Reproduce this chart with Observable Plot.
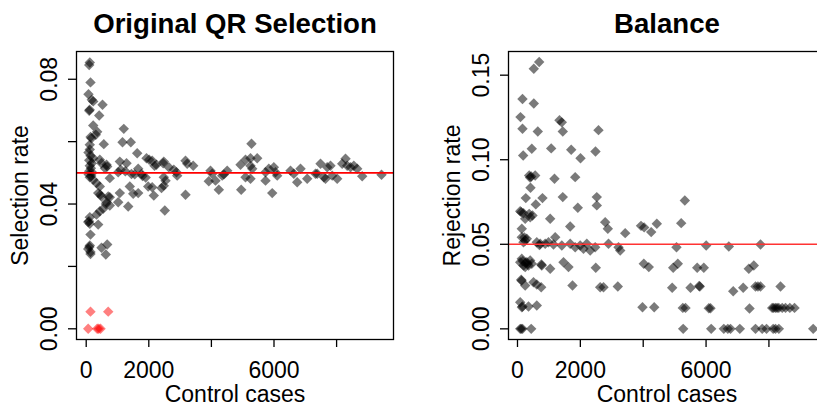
<!DOCTYPE html>
<html><head><meta charset="utf-8">
<script src="https://cdn.jsdelivr.net/npm/d3@7"></script>
<script src="https://cdn.jsdelivr.net/npm/@observablehq/plot@0.6"></script>
<style>
html,body{margin:0;padding:0;background:#fff;overflow:hidden;width:817px;height:406px}
#wrap{display:flex;width:900px;height:406px}
#wrap svg{flex:none}
</style></head><body><div id="wrap"></div>
<script>
const FONT = "Liberation Sans, Arial, Helvetica, sans-serif";

// Panel titles and labels
const titles = ["Original QR Selection", "Balance"];
const yLabels = ["Selection rate", "Rejection rate"];
const xLabel = "Control cases";

// Tick values and labels
const xTicks = [0, 2000, 4000, 6000, 8000];
const xTickLabels = ["0", "2000", "", "6000", ""];
const yTicksLeft = [0, 0.02, 0.04, 0.06, 0.08];
const yTickLabelsLeft = ["0.00", "", "0.04", "", "0.08"];
const yTicksRight = [0, 0.05, 0.10, 0.15];
const yTickLabelsRight = ["0.00", "0.05", "0.10", "0.15"];
const nominalRate = 0.05;

// Left panel: [control cases, selection rate]
const selection = [
[115,.0854],[96,.0846],[137,.0790],[73,.0752],[179,.0734],[224,.0729],[521,.0718],
[96,.0699],[110,.0702],[415,.0684],[224,.0652],[1201,.0641],[351,.0632],[307,.0622],
[169,.0611],[140,.0615],[115,.0590],[562,.0592],[1160,.0598],[1425,.0598],[1629,.0563],
[115,.0575],[73,.0565],[137,.0555],[224,.0547],[96,.0540],[179,.0531],[115,.0523],
[150,.0515],[96,.0505],[200,.0500],[80,.0495],[160,.0490],[435,.0542],[489,.0531],
[649,.0526],[671,.0520],[600,.0515],[1074,.0536],[1288,.0531],[1927,.0547],[2013,.0542],
[2246,.0526],[2460,.0531],[1661,.0513],[1022,.0502],[1447,.0496],[1767,.0496],[754,.0483],
[115,.0486],[224,.0478],[329,.0467],[435,.0456],[1393,.0456],[1981,.0456],[1661,.0435],
[1074,.0435],[2160,.0427],[383,.0435],[489,.0424],[703,.0424],[450,.0430],[2406,.0451],
[754,.0422],[1502,.0433],[649,.0406],[630,.0400],[754,.0395],[1022,.0406],[1342,.0392],
[2511,.0379],[543,.0385],[435,.0377],[329,.0366],[115,.0358],[64,.0342],[115,.0337],
[90,.0345],[383,.0334],[137,.0302],[115,.0267],[64,.0256],[137,.0246],[100,.0262],
[489,.0260],[671,.0270],[626,.0238],[137,.0240],
[2109,.0539],[2182,.0523],[2479,.0536],[2639,.0518],[2799,.0510],[2885,.0502],
[3173,.0539],[3227,.0529],[3419,.0523],[2907,.0491],[2479,.0486],[2534,.0475],
[2479,.0459],[2109,.0454],[3173,.0430],[3971,.0507],[4026,.0497],[4505,.0507],
[4400,.0495],[3917,.0473],[4131,.0475],[4237,.0446],[4345,.0491],[4930,.0526],
[5090,.0542],[5249,.0547],[5281,.0593],[5463,.0547],[5249,.0523],[5304,.0513],
[5090,.0486],[5249,.0481],[4952,.0446],[5729,.0502],[5835,.0513],[5995,.0518],
[6048,.0502],[6102,.0491],[5729,.0475],[5943,.0435],[6527,.0507],[6633,.0497],
[6847,.0513],[6741,.0470],[7061,.0481],[7326,.0497],[7381,.0497],[7486,.0529],
[7592,.0486],[7700,.0518],[7805,.0523],[7646,.0481],[7860,.0491],[8019,.0481],
[8179,.0529],[8285,.0545],[8339,.0523],[8445,.0518],[8550,.0523],[8658,.0513],
[8818,.0489],[9435,.0494],[1100,.0510],[1250,.0505],[1550,.0495],[1800,.0490],[1900,.0485]
];
// Left panel, red points: [control cases, selection rate]
const selectionZero = [[137,.0055],[703,.0055],[64,0],[351,0],[400,0],[457,0]];

// Right panel: [control cases, rejection rate]
const balance = [
[690,.1578],[519,.1538],[159,.1359],[519,.1333],[95,.1252],[1336,.1233],[1410,.1221],
[159,.1183],[646,.1167],[1441,.1167],[2577,.1175],[455,.1065],[181,.1025],[1072,.1067],
[1709,.1059],[2005,.1009],[2482,.1049],[372,.0907],[436,.0901],[563,.0907],[400,.0895],
[414,.0834],[1177,.0888],[1836,.0897],[264,.0773],[795,.0773],[1441,.0779],[2523,.0779],
[2523,.0730],[582,.0736],[1919,.0716],[86,.0696],[191,.0684],[372,.0680],[477,.0670],
[404,.0660],[245,.0651],[120,.0690],[1040,.0651],[2790,.0631],[2874,.0592],[1677,.0605],
[3427,.0566],[3930,.0609],[4030,.0600],[4254,.0572],[4433,.0621],[137,.0592],
[137,.0542],[245,.0522],[191,.0512],[296,.0533],[220,.0540],[614,.0512],[722,.0503],
[881,.0503],[986,.0512],[700,.0495],[1200,.0542],[1146,.0499],[1410,.0493],
[1677,.0503],[1836,.0483],[1995,.0493],[2100,.0473],[2205,.0503],[2313,.0463],[2472,.0483],
[2896,.0503],[3214,.0483],[3268,.0463],
[137,.0414],[86,.0394],[191,.0375],[296,.0394],[404,.0404],[455,.0385],[245,.0365],
[350,.0375],[170,.0400],[320,.0385],[250,.0390],[773,.0375],[760,.0380],[1040,.0355],
[1464,.0394],[1623,.0365],[2491,.0361],[118,.0290],[245,.0256],[130,.0285],
[509,.0276],[614,.0262],[754,.0246],[1750,.0256],[2631,.0246],[2737,.0246],[3192,.0250],
[86,.0157],[159,.0132],[350,.0132],[614,.0138],[140,.0128],[3977,.0128],[4350,.0128],
[86,0],[159,0],[436,0],[120,0],
[5324,.0759],[5209,.0625],[5059,.0483],[6004,.0493],[6724,.0487],[7732,.0499],
[4019,.0385],[4178,.0365],[4954,.0361],[5101,.0385],[5718,.0361],[5928,.0361],
[7360,.0355],[7519,.0375],[4922,.0243],[5505,.0243],[5801,.0250],[5780,.0253],
[6864,.0222],[7182,.0243],[7573,.0250],[7732,.0250],[7650,.0250],[8369,.0250],
[5260,.0124],[5346,.0124],[6087,.0122],[6141,.0122],[7382,.0120],
[8104,.0124],[8150,.0124],[8210,.0124],[8260,.0124],[8315,.0124],[8423,.0124],
[8528,.0124],[8665,.0124],[8814,.0124],
[5272,0],[6163,0],[6565,0],[6692,0],[6778,0],[7074,0],[7573,0],[7786,0],[7923,0],
[8136,0],[8210,0],[8315,0],[9409,0]
];

function panel({title, ylab, pts, redPts, xDomain, yDomain, yTicks, yTickLabels, width, marginLeft, lineColor}) {
  const marks = [
    Plot.dot(pts, {x: d => d[0], y: d => d[1], symbol: "diamond2", r: 4.7, fill: "black", fillOpacity: 0.52, stroke: "none"})
  ];
  if (redPts) marks.push(Plot.dot(redPts, {x: d => d[0], y: d => d[1], symbol: "diamond2", r: 4.7, fill: "red", fillOpacity: 0.5, stroke: "none"}));
  marks.push(
    Plot.ruleY([nominalRate], {stroke: lineColor, strokeWidth: 1.6}),
    Plot.frame({stroke: "black", strokeWidth: 1.3}),
    Plot.axisX({ticks: xTicks, tickSize: 8, tickPadding: 13.7, label: null, fontSize: 23, strokeWidth: 1.3,
      tickFormat: d => xTickLabels[xTicks.indexOf(d)]}),
    Plot.axisY({ticks: yTicks, tickSize: 8, label: null, tickFormat: () => "", strokeWidth: 1.3}),
    Plot.text(yTicks, {y: d => d, text: d => yTickLabels[yTicks.indexOf(d)], frameAnchor: "left", rotate: -90,
      dx: -19.5, lineAnchor: "bottom", textAnchor: "middle", fontSize: 23, fill: "black"}),
    Plot.text([ylab], {text: d => d, frameAnchor: "left", rotate: -90, dx: -48.5, lineAnchor: "bottom",
      textAnchor: "middle", fontSize: 23, fill: "black"}),
    Plot.text([xLabel], {text: d => d, frameAnchor: "bottom", dy: 62, lineAnchor: "bottom", fontSize: 23, fill: "black"}),
    Plot.text([title], {text: d => d, frameAnchor: "top", dy: -18.7, lineAnchor: "bottom", fontSize: 27.6,
      fontWeight: "bold", fill: "black"})
  );
  return Plot.plot({
    width, height: 406, marginLeft, marginRight: 15, marginTop: 51, marginBottom: 67,
    style: {fontFamily: FONT, fontSize: "23px", background: "white", color: "black", overflow: "visible"},
    x: {domain: xDomain, axis: null},
    y: {domain: yDomain, axis: null},
    marks
  });
}

const wrap = document.getElementById("wrap");
wrap.appendChild(panel({
  title: titles[0], ylab: yLabels[0], pts: selection, redPts: selectionZero,
  xDomain: [-310, 9818], yDomain: [-0.00343, 0.0889],
  yTicks: yTicksLeft, yTickLabels: yTickLabelsLeft, width: 408, marginLeft: 76, lineColor: "#ff0000"
}));
wrap.appendChild(panel({
  title: titles[1], ylab: yLabels[1], pts: balance, redPts: null,
  xDomain: [-286, 9800], yDomain: [-0.0063, 0.164],
  yTicks: yTicksRight, yTickLabels: yTickLabelsRight, width: 432, marginLeft: 100, lineColor: "#ff3333"
}));
</script></body></html>
